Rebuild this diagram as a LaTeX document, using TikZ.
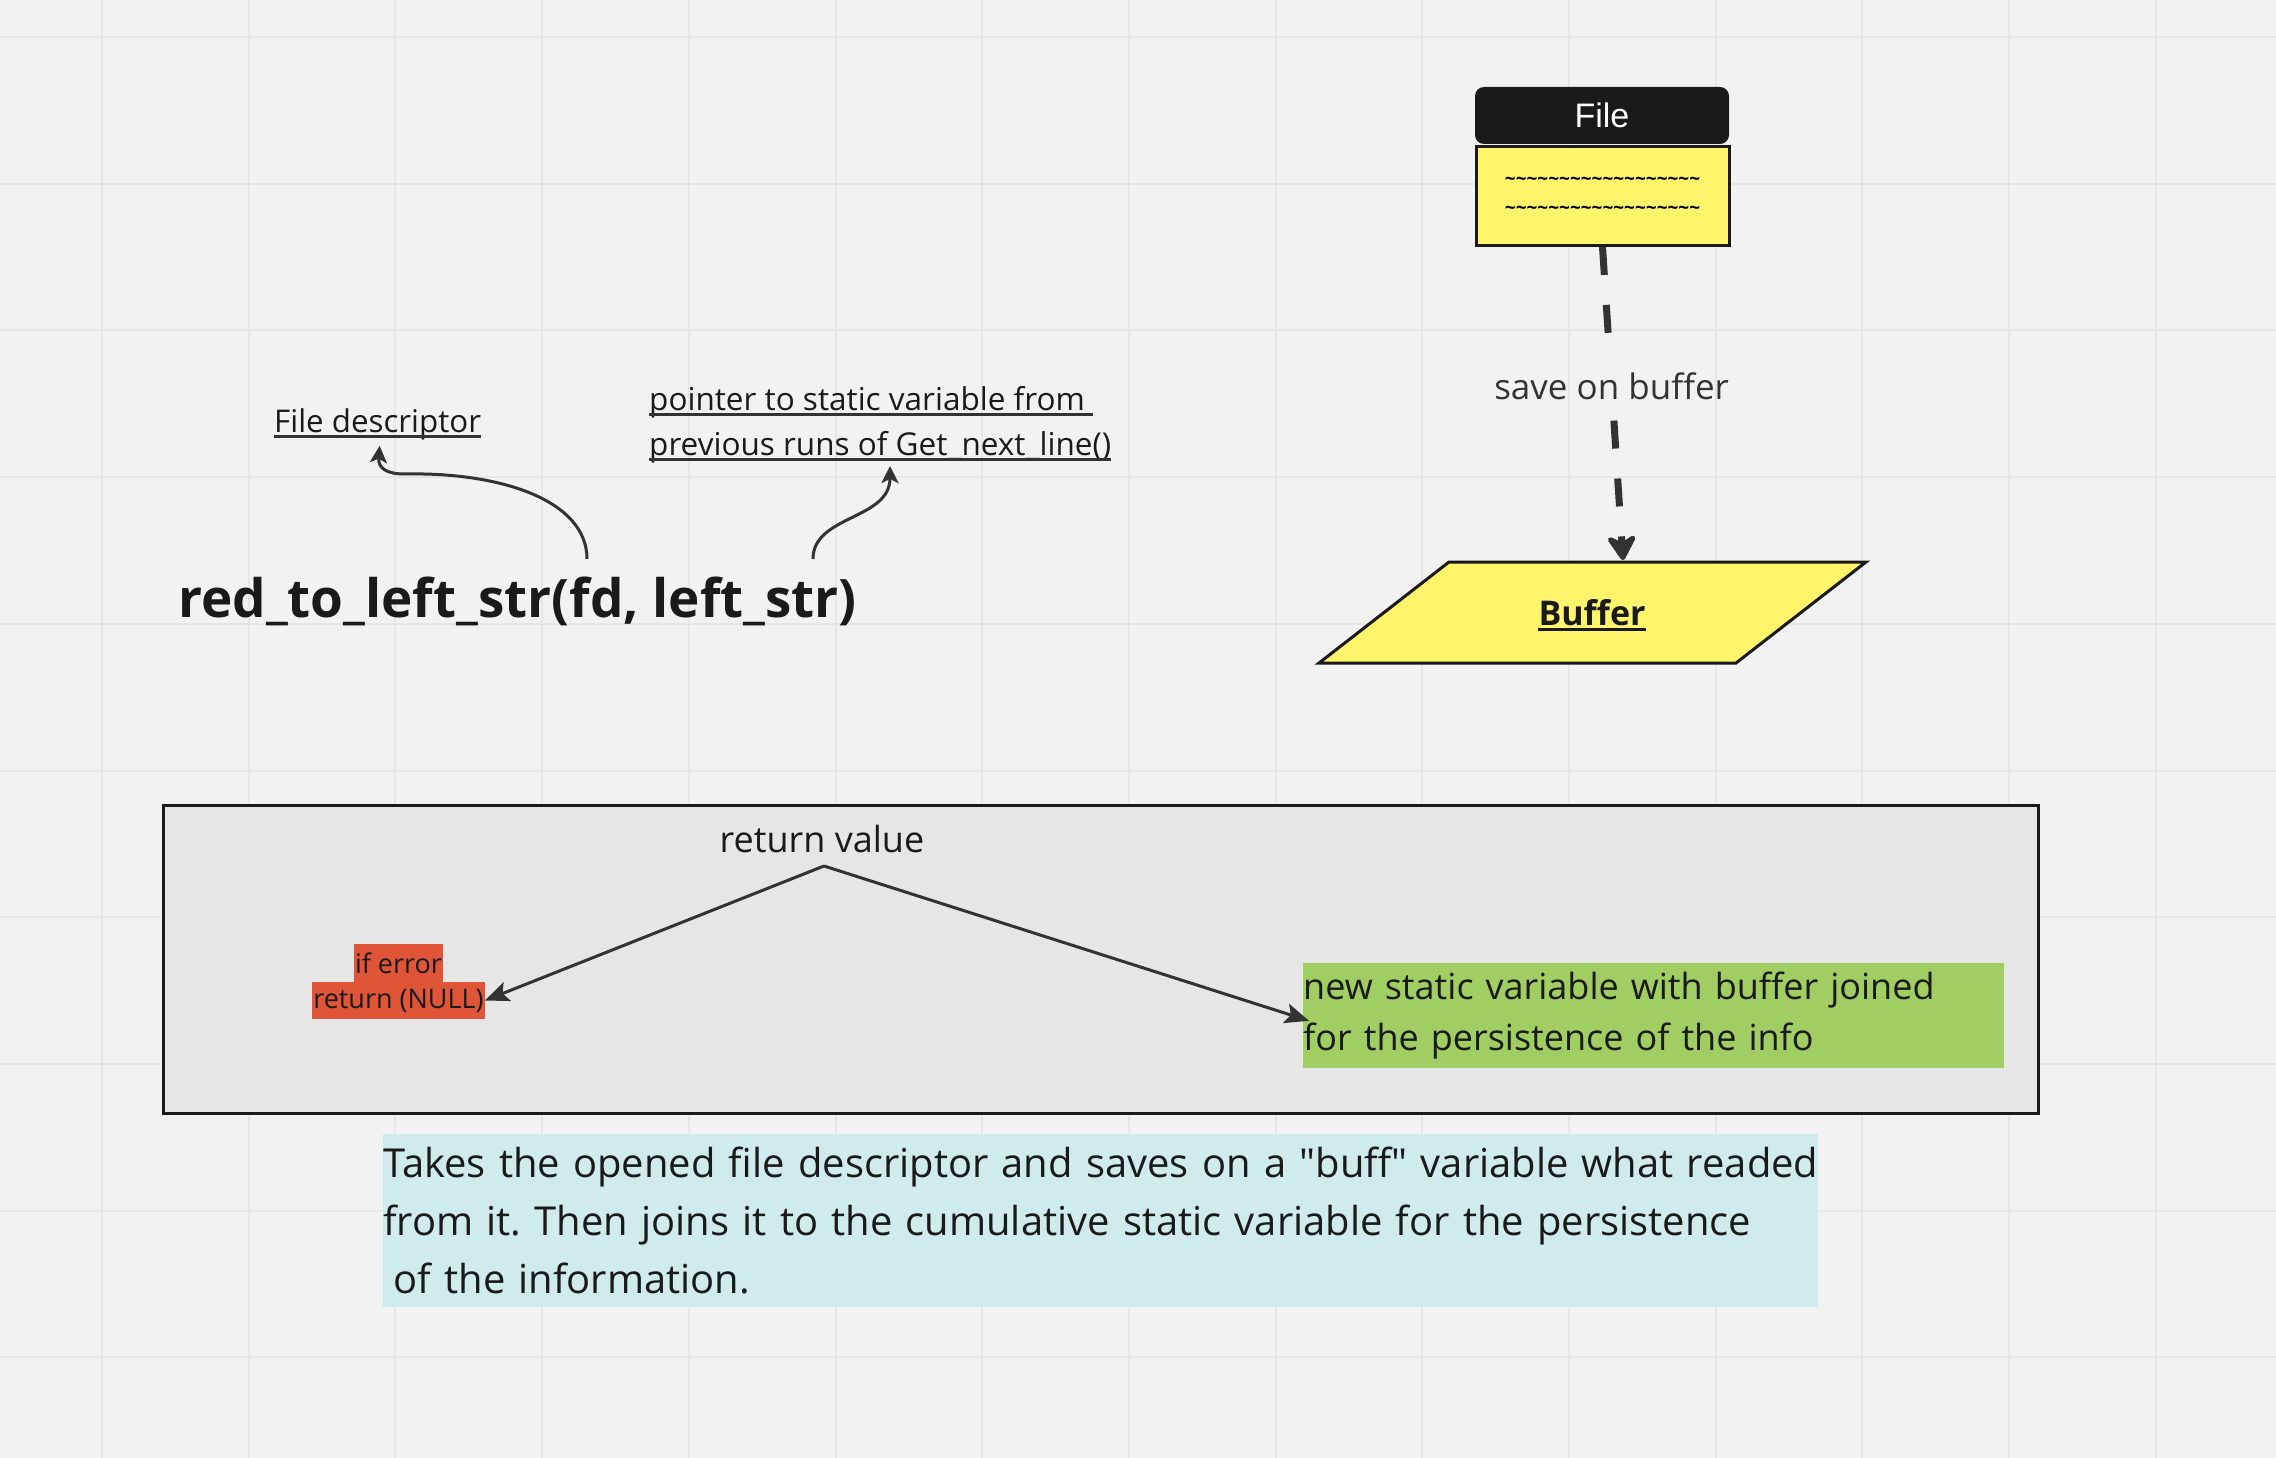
\documentclass[tikz,border=0pt]{standalone}
\usepackage{fontspec}
\setmainfont{Open Sans}
\newfontfamily\arialfont{Liberation Sans}
\usetikzlibrary{arrows.meta}
\definecolor{bgc}{HTML}{F2F2F2}
\definecolor{gridc}{HTML}{E6E6E6}
\definecolor{inkc}{HTML}{1A1A1A}
\definecolor{linec}{HTML}{333333}
\definecolor{headc}{HTML}{1A1A1A}
\definecolor{yel}{HTML}{FFF46A}
\definecolor{boxc}{HTML}{E6E6E6}
\definecolor{redc}{HTML}{E05537}
\definecolor{greenc}{HTML}{A1CE63}
\definecolor{cyanc}{HTML}{D0EBEB}
\newcommand\myfs[2]{\fontsize{#1}{#2}\selectfont}
\newcommand\mytil{\textasciitilde}
\newcommand\tilrow{\mytil\mytil\mytil\mytil\mytil\mytil\mytil\mytil\mytil\mytil\mytil\mytil\mytil\mytil\mytil\mytil\mytil\mytil}
\tikzset{
  txt/.style={inner sep=0pt, text=inkc},
  conn/.style={draw=linec, line width=3pt, -{Stealth[length=24pt,width=20pt,inset=5pt]}},
  curv/.style={draw=linec, line width=3pt, -{Stealth[length=17pt,width=17pt,inset=4pt]}},
  uline/.style={draw=linec, line width=2.5pt},
}
\frenchspacing
\begin{document}
\begin{tikzpicture}[x=1pt,y=-1pt]
\useasboundingbox (0,0) rectangle (2276,1458);
\fill[bgc] (0,0) rectangle (2276,1458);
\foreach \i in {0,...,14} \draw[gridc,line width=2pt] ({102+146.7*\i},0) -- ({102+146.7*\i},1458);
\foreach \i in {0,...,9} \draw[gridc,line width=2pt] (0,{37+146.7*\i}) -- (2276,{37+146.7*\i});

% File
\node[fill=headc, rounded corners=9pt, minimum width=254pt, minimum height=57pt, inner sep=0pt, text=white, font=\arialfont\myfs{34}{40}] (filehead) at (1602,115.5) {File};
\node[fill=yel, draw=inkc, line width=3pt, minimum width=253pt, minimum height=99pt, inner sep=0pt, align=center, text=black, font=\bfseries\myfs{19}{29}] (filebody) at (1602.5,196) {\tilrow\\\tilrow};

% Buffer
\draw[fill=yel, draw=inkc, line width=3pt] (1449,562) -- (1866,562) -- (1736,663) -- (1319,663) -- cycle;
\node[txt, anchor=base, font=\bfseries\myfs{34}{40}] (buf) at (1592,625) {Buffer};
\draw[inkc, line width=3pt] ([yshift=-4pt]buf.base west) -- ([yshift=-4pt]buf.base east);
\coordinate (bufin) at (1623,560);

\draw[linec, line width=7pt, dash pattern=on 28pt off 30pt, -{Stealth[length=30pt,width=36pt,inset=10pt,round]}] (filebody.south) -- (bufin)
  node[pos=0.446, fill=bgc, inner xsep=-100pt, inner ysep=12.7pt, text=linec, font=\myfs{35}{42}] (savelbl) {save on buffer};

% Title and annotations
\node[txt, anchor=base west, font=\bfseries\myfs{53}{63}] (title) at (178,617) {red\_to\_left\_str(fd, left\_str)};

\node[txt, anchor=base west, font=\myfs{31.3}{45}] (fdesc) at (274,432) {File descriptor};
\draw[uline] ([yshift=-4.5pt]fdesc.base west) -- ([yshift=-4.5pt]fdesc.base east);

\node[txt, anchor=base west, font=\myfs{31.5}{45}] (ptra) at (649,410) {pointer to static variable from};
\draw[uline] ([yshift=-4.5pt]ptra.base west) -- ([xshift=8pt,yshift=-4.5pt]ptra.base east);
\node[txt, anchor=base west, font=\myfs{31.5}{45}] (ptrb) at (649,455) {previous runs of Get\_next\_line()};
\draw[uline] ([yshift=-4.5pt]ptrb.base west) -- ([yshift=-4.5pt]ptrb.base east);

\coordinate (fdfrom) at (587,559);
\coordinate (ptrfrom) at (813,559);
\coordinate (ptrend) at (890,466);
\draw[curv] (fdfrom) .. controls (587,500) and (500,472) .. (405,474) .. controls (386,474) and (378,468) .. ([xshift=2pt,yshift=-6pt]fdesc.south);
\draw[curv] (ptrfrom) .. controls (813,515) and (890,520) .. (ptrend);

% Return box
\node[draw=inkc, fill=boxc, line width=3pt, minimum width=1875pt, minimum height=308pt, inner sep=0pt] (retbox) at (1100.5,959) {};
\node[txt, anchor=base, font=\myfs{36}{51}] (retval) at (822,852) {return value};
\coordinate (apex) at (824,866);

\node[fill=redc, inner xsep=1pt, inner ysep=0pt, minimum height=38pt, text=inkc, font=\myfs{27}{38}] (iferr) at (398.5,963) {if error};
\node[fill=redc, inner xsep=1pt, inner ysep=0pt, minimum height=37pt, text=inkc, font=\myfs{27}{38}] (retnull) at (398.5,1000.5) {return (NULL)};

\node[fill=greenc, anchor=north west, inner xsep=0pt, inner ysep=9pt, text width=701pt, align=left, text=inkc, font=\myfs{36}{51}] (grn) at (1303,963) {\noindent\mbox{new static variable with buffer joined}\\\mbox{for the persistence of the info}};

\draw[conn] (apex) -- (retnull.east);
\draw[conn] (apex) -- ([xshift=6pt,yshift=-5pt]grn.west);

% Description
\node[fill=cyanc, anchor=north west, inner xsep=0pt, inner ysep=13pt, text width=1435pt, align=left, text=inkc, font=\myfs{39.9}{58}] (desc) at (383,1134) {\noindent\mbox{Takes the opened file descriptor and saves on a \textquotedbl buff\textquotedbl{} variable what readed}\\\mbox{from it. Then joins it to the cumulative static variable for the persistence}\\\mbox{\hspace*{0.26em}of the information.}};
\end{tikzpicture}
\end{document}
